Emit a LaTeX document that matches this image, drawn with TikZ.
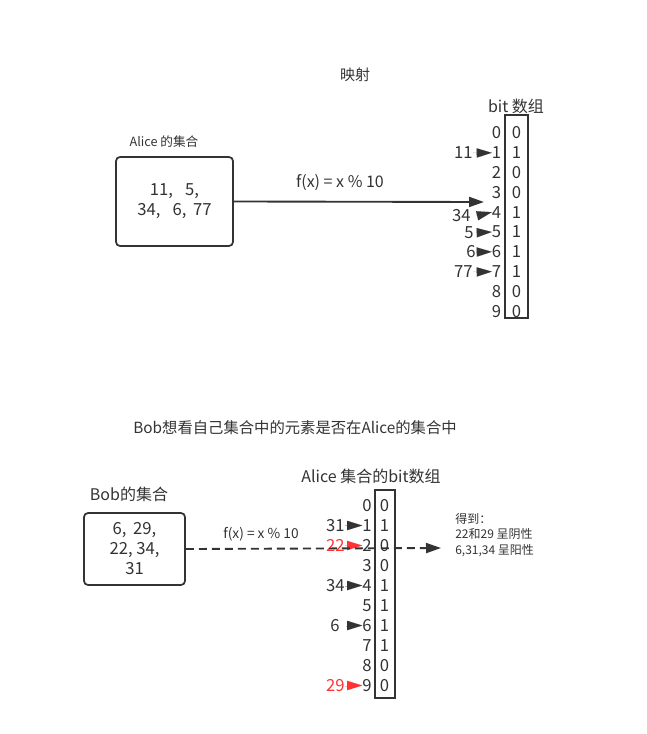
\documentclass[tikz,border=0pt]{standalone}
\usepackage{fontspec}
\setmainfont{Noto Sans CJK SC}
\usetikzlibrary{arrows.meta}
\definecolor{fg}{HTML}{333333}
\definecolor{rd}{HTML}{FF3333}
\begin{document}
\begin{tikzpicture}[x=0.75pt,y=-0.75pt,
  every node/.style={text=fg, inner sep=0pt},
  digit/.style={font=\fontsize{12.5}{14}\selectfont},
  idx/.style={digit, anchor=east},
  num/.style={digit, anchor=east},
  arrbox/.style={draw=fg, line width=1.3pt, fill=none},
  setbox/.style={draw=fg, line width=1.3pt, rounded corners=3pt, align=center, font=\fontsize{12.5}{15}\selectfont},
  mk/.style={draw=fg, line width=0.01pt, -{Triangle[length=11.25pt,width=7pt]}},
  mkred/.style={draw=rd, line width=0.01pt, -{Triangle[length=11.25pt,width=7pt]}},
  conn/.style={draw=fg, line width=1.4pt, -{Triangle[length=11.25pt,width=7.5pt]}},
  dconn/.style={conn, dash pattern=on 6pt off 3.75pt}
]
\useasboundingbox (0,0) rectangle (646,734);

% ---------- top part ----------
\node[font=\fontsize{11.25}{14}\selectfont] (map) at (355,75) {映射};
\node[font=\fontsize{12}{14}\selectfont] (bithdr) at (516,106) {bit 数组};
\node[arrbox, minimum width=17.25pt, minimum height=152.25pt] (arrA) at (516.5,216.5) {};
\foreach \i/\v in {0/0,1/1,2/0,3/0,4/1,5/1,6/1,7/1,8/0,9/0}{
  \node[idx] (ti\i) at (501.5,133+19.8*\i) {\i};
  \node[digit] (tv\i) at (516.5,133+19.8*\i) {\v};
}
\node[num] (tn11) at (473,153) {11};
\node[num] (tn34) at (471,216) {34};
\node[num] (tn5) at (474,232.5) {5};
\node[num] (tn6) at (476,252) {6};
\node[num] (tn77) at (473,272) {77};
\draw[mk] (tn11.east) -- (ti1.west);
\draw[mk] (tn34.east) ++(5,0) -- (ti4.west);
\draw[mk] (tn5.east) ++(6,0) -- (ti5.west);
\draw[mk] (tn6.east) ++(4,0) -- (ti6.west);
\draw[mk] (tn77.east) -- (ti7.west);

\node[font=\fontsize{9.5}{12}\selectfont] (alicelbl) at (164,142) {Alice 的集合};
\node[setbox, minimum width=87.75pt, minimum height=66.75pt] (alice) at (174.5,201.5) {11,\hspace{9pt}5,\\34,\hspace{9pt}6,\hspace{5pt}77};
\coordinate (tA) at (484,202);
\draw[conn] (alice.east) -- (tA);
\node[font=\fontsize{12}{14}\selectfont] (fx1) at (340,183) {f(x) = x \% 10};

% ---------- bottom part ----------
\node[font=\fontsize{11.5}{14}\selectfont] (title) at (295,428) {Bob想看自己集合中的元素是否在Alice的集合中};
\node[font=\fontsize{12}{14}\selectfont] (bithdr2) at (371,476) {Alice 集合的bit数组};
\node[arrbox, minimum width=15pt, minimum height=156pt] (arrB) at (385,594) {};
\foreach \i/\v in {0/0,1/1,2/0,3/0,4/1,5/1,6/1,7/1,8/0,9/0}{
  \node[idx] (bi\i) at (372,505.5+20*\i) {\i};
  \node[digit] (bv\i) at (384.5,505.5+20*\i) {\v};
}
\node[num] (bn31) at (345,525.5) {31};
\node[num, text=rd] (bn22) at (345,545.5) {22};
\node[num] (bn34) at (345,585.5) {34};
\node[num] (bn6) at (340,625.5) {6};
\node[num, text=rd] (bn29) at (345,685.5) {29};
\draw[mk] (bn31.east) -- (bi1.west);
\draw[mkred] (bn22.east) -- (bi2.west);
\draw[mk] (bn34.east) -- (bi4.west);
\draw[mk] (bn6.east) ++(6,0) -- (bi6.west);
\draw[mkred] (bn29.east) -- (bi9.west);

\node[font=\fontsize{12}{14}\selectfont] (boblbl) at (129,494) {Bob的集合};
\node[setbox, minimum width=75.75pt, minimum height=54pt] (bob) at (134.5,549) {6,\hspace{5pt}29,\\22, 34,\\31};
\coordinate (tB) at (441,548);
\draw[dconn] (bob.east) -- (tB);
\node[font=\fontsize{10.3}{12}\selectfont] (fx2) at (261,534) {f(x) = x \% 10};
\node[anchor=west, align=left, font=\fontsize{9}{11.6}\selectfont] (res) at (455,535) {得到：\\22和29 呈阴性\\6,31,34 呈阳性};
\end{tikzpicture}
\end{document}
